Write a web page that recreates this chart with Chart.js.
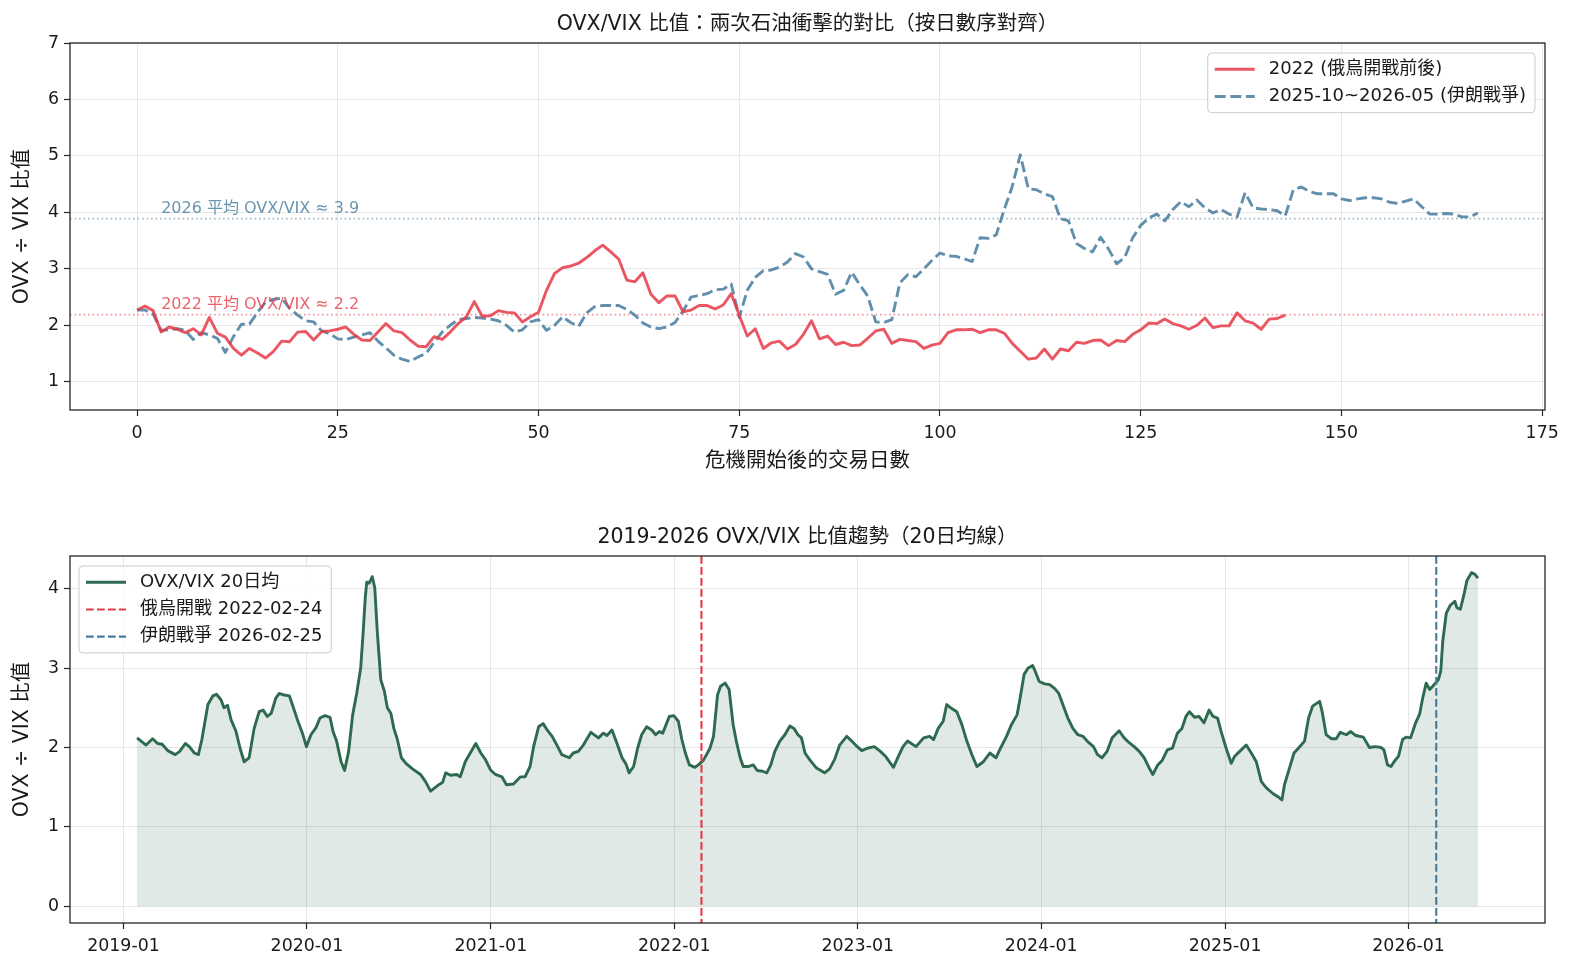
<!DOCTYPE html>
<html lang="zh-Hant">
<head>
<meta charset="utf-8">
<title>OVX/VIX 比值</title>
<script src="https://cdn.jsdelivr.net/npm/chart.js@4.4.1/dist/chart.umd.min.js"></script>
<style>
  html, body { margin: 0; padding: 0; background: #fff; }
  #page { position: relative; width: 1573px; height: 972px; overflow: hidden; }
  .box { position: absolute; left: 0; width: 1573px; }
  #topBox { top: 0; height: 480px; }
  #bottomBox { top: 480px; height: 492px; }
</style>
</head>
<body>
<div id="page">
  <div class="box" id="topBox"><canvas id="shockChart" width="1573" height="480"></canvas></div>
  <div class="box" id="bottomBox"><canvas id="trendChart" width="1573" height="492"></canvas></div>
</div>
<script>
// ----- 資料：兩次石油衝擊（按交易日數對齊）-----
const ratio2022 = [
  2.27, 2.34, 2.26, 1.88, 1.97, 1.93, 1.87, 1.94, 1.83, 2.14,
  1.86, 1.79, 1.59, 1.47, 1.59, 1.51, 1.42, 1.54, 1.72, 1.71,
  1.88, 1.89, 1.74, 1.89, 1.90, 1.93, 1.97, 1.84, 1.74, 1.73,
  1.88, 2.03, 1.90, 1.87, 1.74, 1.63, 1.62, 1.80, 1.75, 1.88,
  2.03, 2.15, 2.42, 2.16, 2.17, 2.26, 2.23, 2.22, 2.06, 2.15,
  2.23, 2.62, 2.92, 3.02, 3.05, 3.10, 3.20, 3.32, 3.42, 3.30,
  3.17, 2.80, 2.77, 2.93, 2.55, 2.40, 2.52, 2.52, 2.24, 2.27,
  2.35, 2.35, 2.29, 2.36, 2.56, 2.18, 1.81, 1.94, 1.59, 1.69,
  1.72, 1.58, 1.66, 1.84, 2.08, 1.76, 1.81, 1.66, 1.70, 1.64,
  1.65, 1.77, 1.90, 1.93, 1.68, 1.75, 1.73, 1.71, 1.59, 1.65,
  1.68, 1.87, 1.92, 1.92, 1.93, 1.87, 1.92, 1.92, 1.86, 1.68,
  1.54, 1.40, 1.42, 1.58, 1.40, 1.58, 1.55, 1.70, 1.68, 1.73,
  1.74, 1.64, 1.73, 1.71, 1.84, 1.92, 2.04, 2.03, 2.11, 2.03,
  1.99, 1.93, 2.00, 2.13, 1.96, 1.99, 1.99, 2.22, 2.08, 2.04,
  1.93, 2.11, 2.12, 2.18
];
const ratio2026 = [
  2.27, 2.27, 2.20, 1.91, 1.92, 1.94, 1.91, 1.75, 1.87, 1.83,
  1.77, 1.52, 1.80, 2.02, 2.02, 2.23, 2.41, 2.46, 2.48, 2.30,
  2.18, 2.08, 2.06, 1.90, 1.85, 1.76, 1.75, 1.79, 1.83, 1.87,
  1.72, 1.60, 1.47, 1.40, 1.36, 1.44, 1.50, 1.70, 1.88, 2.00,
  2.10, 2.12, 2.14, 2.13, 2.11, 2.08, 2.00, 1.88, 1.92, 2.06,
  2.10, 1.91, 2.00, 2.15, 2.05, 1.98, 2.22, 2.33, 2.35, 2.35,
  2.35, 2.28, 2.18, 2.04, 1.97, 1.94, 1.97, 2.05, 2.25, 2.50,
  2.53, 2.56, 2.63, 2.64, 2.73, 2.14, 2.62, 2.85, 2.97, 2.98,
  3.03, 3.12, 3.27, 3.21, 3.00, 2.95, 2.90, 2.55, 2.62, 2.94,
  2.72, 2.52, 2.06, 2.05, 2.10, 2.75, 2.90, 2.86, 3.00, 3.15,
  3.28, 3.23, 3.22, 3.18, 3.13, 3.55, 3.54, 3.60, 4.05, 4.46,
  5.02, 4.42, 4.40, 4.33, 4.28, 3.89, 3.85, 3.45, 3.36, 3.30,
  3.56, 3.35, 3.09, 3.20, 3.55, 3.77, 3.90, 3.97, 3.85, 4.05,
  4.19, 4.10, 4.22, 4.08, 3.99, 4.05, 3.97, 3.92, 4.35, 4.08,
  4.06, 4.05, 4.03, 3.94, 4.40, 4.45, 4.37, 4.33, 4.33, 4.33,
  4.24, 4.21, 4.24, 4.26, 4.26, 4.24, 4.18, 4.16, 4.20, 4.24,
  4.10, 3.97, 3.97, 3.98, 3.97, 3.92, 3.92, 3.99
];
const avg2022 = 2.19;
const avg2026 = 3.89;
const dayTicks = [0, 25, 50, 75, 100, 125, 150, 175];
const shockTicks = [1, 2, 3, 4, 5, 6, 7];

// ----- 資料：2019-2026 OVX/VIX 20日均線 -----
const trendDates = [
  '2019-01-28', '2019-02-15', '2019-02-28', '2019-03-10', '2019-03-19', '2019-03-30', '2019-04-14', '2019-04-23',
  '2019-05-04', '2019-05-12', '2019-05-22', '2019-05-30', '2019-06-06', '2019-06-18', '2019-06-28', '2019-07-05',
  '2019-07-14', '2019-07-20', '2019-07-27', '2019-08-03', '2019-08-13', '2019-08-21', '2019-08-29', '2019-09-08',
  '2019-09-18', '2019-09-28', '2019-10-06', '2019-10-14', '2019-10-22', '2019-10-31', '2019-11-07', '2019-11-17',
  '2019-11-27', '2019-12-03', '2019-12-13', '2019-12-23', '2019-12-31', '2020-01-09', '2020-01-19', '2020-01-27',
  '2020-02-06', '2020-02-16', '2020-02-22', '2020-02-29', '2020-03-09', '2020-03-16', '2020-03-24', '2020-04-01',
  '2020-04-09', '2020-04-17', '2020-04-22', '2020-04-26', '2020-04-29', '2020-05-04', '2020-05-10', '2020-05-15',
  '2020-05-20', '2020-05-27', '2020-06-03', '2020-06-09', '2020-06-16', '2020-06-22', '2020-06-29', '2020-07-07',
  '2020-07-16', '2020-07-29', '2020-08-14', '2020-08-24', '2020-09-03', '2020-09-17', '2020-09-27', '2020-10-03',
  '2020-10-13', '2020-10-25', '2020-11-01', '2020-11-11', '2020-11-21', '2020-12-02', '2020-12-12', '2020-12-21',
  '2020-12-31', '2021-01-10', '2021-01-23', '2021-02-01', '2021-02-15', '2021-03-01', '2021-03-10', '2021-03-20',
  '2021-03-27', '2021-04-06', '2021-04-15', '2021-04-23', '2021-05-03', '2021-05-14', '2021-05-22', '2021-06-06',
  '2021-06-14', '2021-06-24', '2021-07-04', '2021-07-19', '2021-08-03', '2021-08-13', '2021-08-20', '2021-08-30',
  '2021-09-09', '2021-09-19', '2021-09-27', '2021-10-03', '2021-10-12', '2021-10-20', '2021-10-28', '2021-11-07',
  '2021-11-17', '2021-11-25', '2021-12-02', '2021-12-09', '2021-12-22', '2021-12-31', '2022-01-09', '2022-01-16',
  '2022-01-23', '2022-01-31', '2022-02-11', '2022-02-18', '2022-02-28', '2022-03-13', '2022-03-20', '2022-03-28',
  '2022-04-03', '2022-04-12', '2022-04-20', '2022-04-28', '2022-05-05', '2022-05-12', '2022-05-18', '2022-05-28',
  '2022-06-07', '2022-06-15', '2022-06-26', '2022-07-04', '2022-07-12', '2022-07-20', '2022-07-30', '2022-08-09',
  '2022-08-19', '2022-08-27', '2022-09-04', '2022-09-11', '2022-09-18', '2022-09-28', '2022-10-11', '2022-10-27',
  '2022-11-06', '2022-11-16', '2022-11-26', '2022-12-10', '2022-12-20', '2022-12-31', '2023-01-09', '2023-01-20',
  '2023-02-03', '2023-02-15', '2023-02-25', '2023-03-13', '2023-03-23', '2023-04-01', '2023-04-10', '2023-04-27',
  '2023-05-12', '2023-05-24', '2023-06-01', '2023-06-10', '2023-06-20', '2023-06-27', '2023-07-07', '2023-07-17',
  '2023-07-27', '2023-08-06', '2023-08-16', '2023-08-26', '2023-09-08', '2023-09-21', '2023-10-03', '2023-10-12',
  '2023-10-24', '2023-11-03', '2023-11-14', '2023-11-20', '2023-11-28', '2023-12-06', '2023-12-15', '2023-12-20',
  '2023-12-28', '2024-01-08', '2024-01-18', '2024-01-28', '2024-02-05', '2024-02-13', '2024-02-23', '2024-03-04',
  '2024-03-14', '2024-03-24', '2024-04-03', '2024-04-14', '2024-04-22', '2024-05-01', '2024-05-11', '2024-05-21',
  '2024-06-04', '2024-06-14', '2024-06-24', '2024-07-04', '2024-07-14', '2024-07-24', '2024-08-03', '2024-08-10',
  '2024-08-20', '2024-08-29', '2024-09-08', '2024-09-18', '2024-09-28', '2024-10-07', '2024-10-15', '2024-10-22',
  '2024-11-01', '2024-11-10', '2024-11-20', '2024-11-30', '2024-12-08', '2024-12-17', '2024-12-24', '2025-01-03',
  '2025-01-13', '2025-01-20', '2025-01-30', '2025-02-12', '2025-02-22', '2025-03-04', '2025-03-14', '2025-03-24',
  '2025-04-06', '2025-04-16', '2025-04-24', '2025-04-29', '2025-05-09', '2025-05-18', '2025-05-28', '2025-06-08',
  '2025-06-16', '2025-06-24', '2025-07-08', '2025-07-13', '2025-07-21', '2025-07-31', '2025-08-10', '2025-08-18',
  '2025-08-30', '2025-09-08', '2025-09-18', '2025-10-03', '2025-10-15', '2025-10-27', '2025-11-07', '2025-11-13',
  '2025-11-20', '2025-11-27', '2025-12-03', '2025-12-12', '2025-12-20', '2025-12-27', '2026-01-05', '2026-01-15',
  '2026-01-23', '2026-01-29', '2026-02-05', '2026-02-12', '2026-02-18', '2026-03-01', '2026-03-06', '2026-03-10',
  '2026-03-17', '2026-03-25', '2026-04-03', '2026-04-07', '2026-04-14', '2026-04-21', '2026-04-27', '2026-05-06',
  '2026-05-13', '2026-05-19'
];
const trendValues = [
  2.12, 2.03, 2.11, 2.05, 2.04, 1.96, 1.91, 1.95,
  2.05, 2.01, 1.93, 1.91, 2.10, 2.54, 2.65, 2.67,
  2.60, 2.50, 2.53, 2.35, 2.20, 1.99, 1.82, 1.87,
  2.24, 2.45, 2.47, 2.39, 2.43, 2.62, 2.68, 2.66,
  2.65, 2.54, 2.35, 2.18, 2.01, 2.16, 2.25, 2.37,
  2.40, 2.38, 2.20, 2.08, 1.82, 1.71, 1.95, 2.41,
  2.68, 3.00, 3.46, 3.88, 4.08, 4.07, 4.15, 4.01,
  3.46, 2.85, 2.71, 2.50, 2.43, 2.24, 2.10, 1.87,
  1.80, 1.73, 1.66, 1.57, 1.45, 1.52, 1.56, 1.68,
  1.65, 1.66, 1.63, 1.82, 1.93, 2.05, 1.93, 1.85,
  1.72, 1.66, 1.63, 1.53, 1.54, 1.63, 1.63, 1.76,
  2.01, 2.26, 2.30, 2.22, 2.14, 2.01, 1.91, 1.87,
  1.93, 1.95, 2.03, 2.19, 2.12, 2.18, 2.15, 2.22,
  2.05, 1.87, 1.79, 1.68, 1.76, 1.99, 2.16, 2.26,
  2.22, 2.16, 2.20, 2.18, 2.39, 2.40, 2.33, 2.10,
  1.93, 1.78, 1.75, 1.78, 1.84, 1.99, 2.14, 2.66,
  2.77, 2.81, 2.73, 2.29, 2.06, 1.87, 1.76, 1.76,
  1.78, 1.71, 1.70, 1.68, 1.78, 1.95, 2.08, 2.16,
  2.27, 2.24, 2.16, 2.12, 1.93, 1.84, 1.74, 1.68,
  1.73, 1.85, 2.03, 2.14, 2.08, 2.01, 1.96, 1.99,
  2.01, 1.95, 1.89, 1.75, 1.89, 2.01, 2.08, 2.01,
  2.12, 2.14, 2.10, 2.24, 2.33, 2.54, 2.49, 2.45,
  2.29, 2.08, 1.91, 1.76, 1.82, 1.93, 1.87, 1.99,
  2.14, 2.29, 2.41, 2.62, 2.92, 3.00, 3.03, 2.96,
  2.83, 2.80, 2.79, 2.74, 2.68, 2.54, 2.37, 2.24,
  2.16, 2.14, 2.07, 2.01, 1.91, 1.87, 1.95, 2.12,
  2.21, 2.12, 2.06, 2.01, 1.95, 1.87, 1.74, 1.66,
  1.78, 1.84, 1.97, 1.99, 2.18, 2.24, 2.39, 2.45,
  2.38, 2.39, 2.31, 2.47, 2.39, 2.37, 2.20, 1.99,
  1.80, 1.89, 1.95, 2.03, 1.93, 1.82, 1.57, 1.49,
  1.42, 1.38, 1.34, 1.53, 1.74, 1.93, 2.00, 2.08,
  2.37, 2.52, 2.58, 2.45, 2.16, 2.11, 2.11, 2.19,
  2.16, 2.20, 2.15, 2.13, 2.00, 2.01, 2.00, 1.97,
  1.78, 1.76, 1.82, 1.89, 2.10, 2.13, 2.12, 2.31,
  2.42, 2.62, 2.81, 2.73, 2.77, 2.85, 2.96, 3.34,
  3.69, 3.79, 3.84, 3.76, 3.74, 3.92, 4.10, 4.20,
  4.18, 4.13
];
const yearTicks = ['2019-01', '2020-01', '2021-01', '2022-01', '2023-01', '2024-01', '2025-01', '2026-01'];
const trendTicks = [0, 1, 2, 3, 4];
const eventNames = ['俄烏開戰', '伊朗戰爭'];
const eventDates = ['2022-02-24', '2026-02-25'];

// ----- 樣式 -----
const RED = '#e63946';
const BLUE = '#457b9d';
const GREEN = '#2d6a4f';
const FONT_FAMILY = "'DejaVu Sans', 'Noto Sans CJK TC', sans-serif";
const TEXT_COLOR = '#1a1a1a';
const SPINE_COLOR = '#262626';
const GRID_COLOR = '#e6e6e6';

function rgba(hex, a) {
    const n = parseInt(hex.slice(1), 16);
    return `rgba(${(n >> 16) & 255}, ${(n >> 8) & 255}, ${n & 255}, ${a})`;
}

function font(size) {
    return `${size}px ${FONT_FAMILY}`;
}

// 共用的座標軸設定（matplotlib 風格）
function axisOptions(min, max, tickValues, fitSize, isX, formatter) {
    return {
        type: 'linear',
        min: min,
        max: max,
        afterBuildTicks: scale => { scale.ticks = tickValues.map(v => ({ value: v })); },
        afterFit: scale => { if (isX) scale.height = fitSize; else scale.width = fitSize; },
        border: { display: false },
        grid: { color: GRID_COLOR, lineWidth: 1, tickColor: SPINE_COLOR, tickLength: 6, tickWidth: 1.2 },
        ticks: {
            color: TEXT_COLOR,
            font: { family: FONT_FAMILY, size: 17.4 },
            padding: isX ? 7 : 5,
            autoSkip: false,
            maxRotation: 0,
            callback: formatter || (v => String(v))
        }
    };
}

// 圖框、標題、參考線、圖例（自訂外掛）
function makeDecor(spec) {
    return {
        id: 'decor',
        beforeDatasetsDraw(chart) {
            const { ctx, chartArea: a, scales } = chart;
            (spec.hlines || []).forEach(h => {
                const y = scales.y.getPixelForValue(h.value);
                ctx.save();
                ctx.beginPath();
                ctx.setLineDash(h.dash);
                ctx.strokeStyle = h.color;
                ctx.lineWidth = h.width;
                ctx.moveTo(a.left, y);
                ctx.lineTo(a.right, y);
                ctx.stroke();
                ctx.restore();
            });
        },
        afterDatasetsDraw(chart) {
            const { ctx, chartArea: a, scales } = chart;
            (spec.vlines || []).forEach(v => {
                const x = scales.x.getPixelForValue(v.value);
                ctx.save();
                ctx.beginPath();
                ctx.setLineDash(v.dash);
                ctx.strokeStyle = v.color;
                ctx.lineWidth = v.width;
                ctx.moveTo(x, a.top);
                ctx.lineTo(x, a.bottom);
                ctx.stroke();
                ctx.restore();
            });
            (spec.notes || []).forEach(n => {
                ctx.save();
                ctx.font = font(n.size);
                ctx.fillStyle = n.color;
                ctx.textAlign = 'left';
                ctx.textBaseline = 'alphabetic';
                ctx.fillText(n.text, scales.x.getPixelForValue(n.x), scales.y.getPixelForValue(n.y));
                ctx.restore();
            });
        },
        afterDraw(chart) {
            const { ctx, chartArea: a } = chart;
            ctx.save();
            // 四邊框線
            ctx.strokeStyle = SPINE_COLOR;
            ctx.lineWidth = 1.3;
            ctx.strokeRect(a.left, a.top, a.right - a.left, a.bottom - a.top);
            // 標題與軸標籤
            ctx.fillStyle = TEXT_COLOR;
            ctx.textAlign = 'center';
            ctx.textBaseline = 'middle';
            ctx.font = font(20.5);
            if (spec.title) ctx.fillText(spec.title, (a.left + a.right) / 2, a.top - 18);
            if (spec.xlabel) ctx.fillText(spec.xlabel, (a.left + a.right) / 2, a.bottom + 52);
            if (spec.ylabel) {
                ctx.save();
                ctx.translate(23, (a.top + a.bottom) / 2);
                ctx.rotate(-Math.PI / 2);
                ctx.fillText(spec.ylabel, 0, 0);
                ctx.restore();
            }
            ctx.restore();
            if (spec.legend) drawLegend(ctx, a, spec.legend);
        }
    };
}

function drawLegend(ctx, a, legend) {
    const f = 18;
    const pad = 7, handle = 40, gap = 14, pitch = 27.2, textH = 18.5;
    ctx.save();
    ctx.font = font(f);
    const textW = Math.max(...legend.items.map(it => ctx.measureText(it.label).width));
    const w = pad * 2 + handle + gap + textW + 2;
    const h = pad * 2 + textH + pitch * (legend.items.length - 1);
    const x = legend.corner === 'ne' ? a.right - 10 - w : a.left + 9;
    const y = a.top + 10;
    ctx.beginPath();
    ctx.roundRect(x, y, w, h, 4);
    ctx.fillStyle = 'rgba(255, 255, 255, 0.8)';
    ctx.fill();
    ctx.strokeStyle = '#cccccc';
    ctx.lineWidth = 1;
    ctx.stroke();
    legend.items.forEach((it, i) => {
        const cy = y + pad + textH / 2 + i * pitch;
        ctx.beginPath();
        ctx.setLineDash(it.dash);
        ctx.strokeStyle = it.color;
        ctx.lineWidth = it.width;
        ctx.moveTo(x + pad, cy);
        ctx.lineTo(x + pad + handle, cy);
        ctx.stroke();
        ctx.setLineDash([]);
        ctx.fillStyle = TEXT_COLOR;
        ctx.textAlign = 'left';
        ctx.textBaseline = 'middle';
        ctx.fillText(it.label, x + pad + handle + gap, cy);
    });
    ctx.restore();
}

// ----- 上圖：兩次石油衝擊對比 -----
const label2022 = '2022 (俄烏開戰前後)';
const label2026 = '2025-10~2026-05 (伊朗戰爭)';
const dash2026 = [11, 4.6];
const maxDays = Math.max(ratio2022.length, ratio2026.length) - 1;
const dayPad = maxDays * 0.05;

new Chart(document.getElementById('shockChart'), {
    type: 'line',
    data: {
        datasets: [
            {
                label: label2022,
                data: ratio2022.map((v, i) => ({ x: i, y: v })),
                borderColor: rgba(RED, 0.85),
                borderWidth: 2.9,
                borderJoinStyle: 'round',
                pointRadius: 0,
                tension: 0,
                fill: false
            },
            {
                label: label2026,
                data: ratio2026.map((v, i) => ({ x: i, y: v })),
                borderColor: rgba(BLUE, 0.85),
                borderWidth: 2.9,
                borderDash: dash2026,
                borderJoinStyle: 'round',
                pointRadius: 0,
                tension: 0,
                fill: false
            }
        ]
    },
    options: {
        responsive: false,
        animation: false,
        devicePixelRatio: 1,
        layout: { padding: { left: 0, right: 28, top: 43, bottom: 0 } },
        plugins: { legend: { display: false }, tooltip: { enabled: false } },
        scales: {
            x: axisOptions(-dayPad, maxDays + dayPad, dayTicks, 70, true),
            y: axisOptions(0.5, 7, shockTicks, 70, false)
        }
    },
    plugins: [makeDecor({
        title: 'OVX/VIX 比值：兩次石油衝擊的對比（按日數序對齊）',
        xlabel: '危機開始後的交易日數',
        ylabel: 'OVX ÷ VIX 比值',
        hlines: [
            { value: avg2022, color: rgba(RED, 0.5), dash: [1.7, 2.8], width: 1.7 },
            { value: avg2026, color: rgba(BLUE, 0.5), dash: [1.7, 2.8], width: 1.7 }
        ],
        notes: [
            { text: `2026 平均 OVX/VIX ≈ ${avg2026.toFixed(1)}`, x: 3, y: avg2026 + 0.1, color: rgba(BLUE, 0.8), size: 16 },
            { text: `2022 平均 OVX/VIX ≈ ${avg2022.toFixed(1)}`, x: 3, y: avg2022 + 0.1, color: rgba(RED, 0.8), size: 16 }
        ],
        legend: {
            corner: 'ne',
            items: [
                { label: label2022, color: rgba(RED, 0.85), dash: [], width: 2.9 },
                { label: label2026, color: rgba(BLUE, 0.85), dash: dash2026, width: 2.9 }
            ]
        }
    })]
});

// ----- 下圖：2019-2026 趨勢 -----
const trendTimes = trendDates.map(d => Date.parse(d));
const tickTimes = yearTicks.map(t => Date.parse(t + '-01'));
const tickNames = new Map(yearTicks.map((t, i) => [tickTimes[i], t]));
const timePad = (trendTimes[trendTimes.length - 1] - trendTimes[0]) * 0.05;
const valuePad = Math.max(...trendValues) * 0.05;
const eventColors = [RED, BLUE];
const eventDash = [7.7, 3.3];

new Chart(document.getElementById('trendChart'), {
    type: 'line',
    data: {
        datasets: [{
            label: 'OVX/VIX 20日均',
            data: trendTimes.map((t, i) => ({ x: t, y: trendValues[i] })),
            borderColor: GREEN,
            borderWidth: 2.9,
            borderJoinStyle: 'round',
            backgroundColor: rgba(GREEN, 0.15),
            fill: 'origin',
            pointRadius: 0,
            tension: 0
        }]
    },
    options: {
        responsive: false,
        animation: false,
        devicePixelRatio: 1,
        layout: { padding: { left: 0, right: 28, top: 76, bottom: 0 } },
        plugins: { legend: { display: false }, tooltip: { enabled: false } },
        scales: {
            x: axisOptions(trendTimes[0] - timePad, trendTimes[trendTimes.length - 1] + timePad,
                tickTimes, 49, true, v => tickNames.get(v) || ''),
            y: axisOptions(-valuePad, Math.max(...trendValues) + valuePad, trendTicks, 70, false)
        }
    },
    plugins: [makeDecor({
        title: '2019-2026 OVX/VIX 比值趨勢（20日均線）',
        ylabel: 'OVX ÷ VIX 比值',
        vlines: eventDates.map((d, i) => ({ value: Date.parse(d), color: eventColors[i], dash: eventDash, width: 2.1 })),
        legend: {
            corner: 'nw',
            items: [{ label: 'OVX/VIX 20日均', color: GREEN, dash: [], width: 2.9 }].concat(
                eventDates.map((d, i) => ({ label: `${eventNames[i]} ${d}`, color: eventColors[i], dash: eventDash, width: 2.1 })))
        }
    })]
});
</script>
</body>
</html>
